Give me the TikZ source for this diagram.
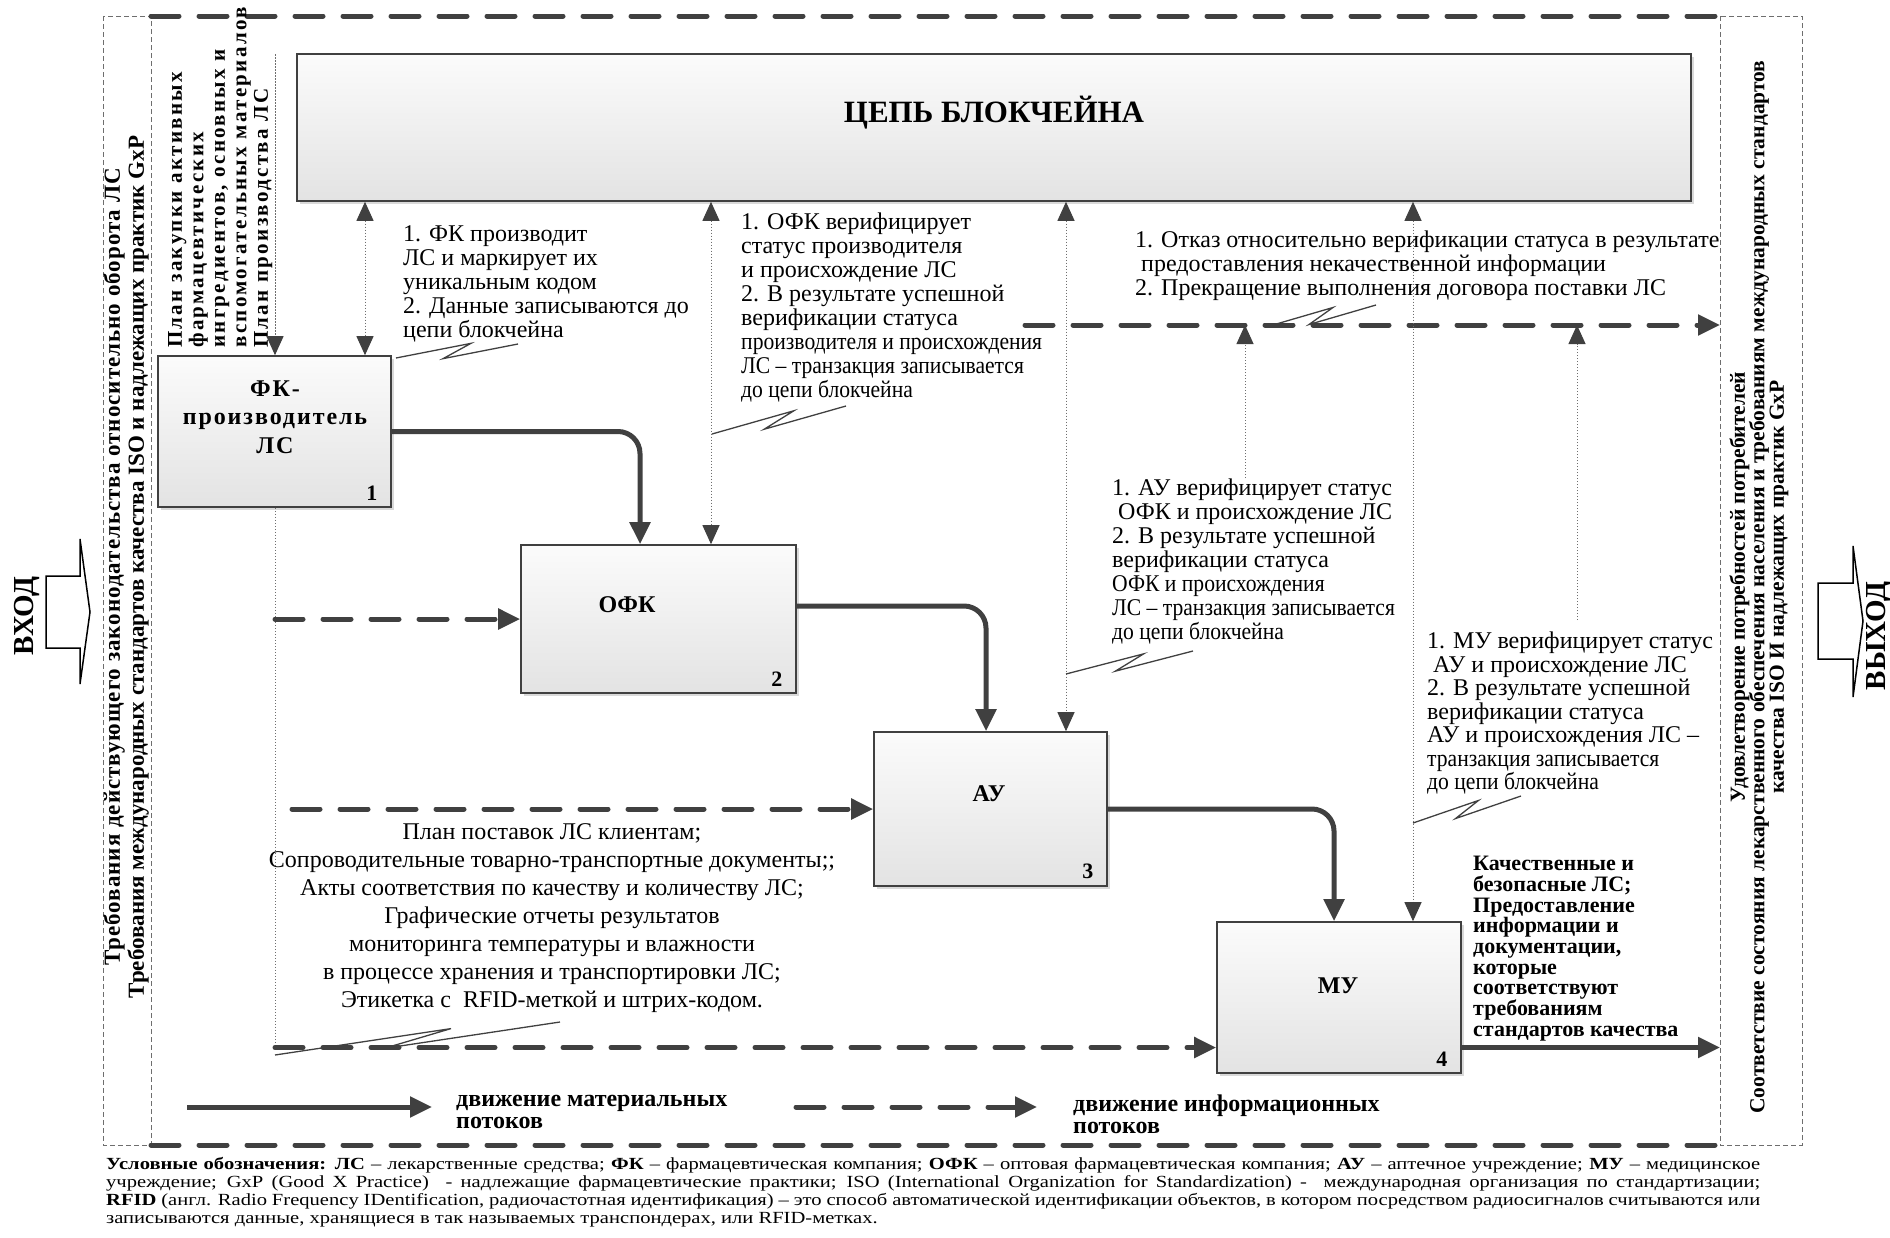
\documentclass[tikz,border=0pt]{standalone}
\usepackage{fontspec}
\setmainfont{Liberation Serif}
\newfontfamily\spacedf[LetterSpace=11]{Liberation Serif}
\newfontfamily\lsf[LetterSpace=4.3]{Liberation Serif}
\newfontfamily\boxf[LetterSpace=8]{Liberation Serif}
\newfontfamily\condf[FakeStretch=0.9]{Liberation Serif}
\newfontfamily\widef[FakeStretch=1.21]{Liberation Serif}
\usetikzlibrary{arrows.meta,calc,shadows}
\definecolor{dk}{RGB}{64,64,64}
\definecolor{dotc}{RGB}{110,110,110}
\newcommand\fsz[2]{\fontsize{#1}{#2}\selectfont\lineskiplimit=-60pt\relax}
\newcommand\squig[2]{\draw[sq] (#1) -- ($(#1)!0.62!(#2)!6pt!90:(#2)$) -- ($(#1)!0.38!(#2)!6pt!-90:(#2)$) -- (#2);}
\begin{document}
\begin{tikzpicture}[x=1pt,y=-1pt,
  box/.style={draw=dk, line width=1.6pt, top color=gray!3, bottom color=gray!22,
    drop shadow={opacity=0.3, shadow xshift=3pt, shadow yshift=-3pt}, inner sep=0pt},
  blabel/.style={font=\bfseries\fsz{24}{28}, inner sep=0pt, align=center},
  num/.style={font=\bfseries\fsz{22}{22}, inner sep=0pt},
  ann/.style={font=\fsz{24}{24}, align=left, inner sep=0pt, anchor=north west},
  mat/.style={draw=dk, line width=5pt, -{Triangle[length=22pt,width=20pt,color=dk]}},
  info/.style={draw=dk, line width=5pt, dash pattern=on 28pt off 20pt, line cap=round,
    -{Triangle[length=22pt,width=20pt,color=dk]}},
  framel/.style={draw=dk, line width=5pt, dash pattern=on 28pt off 20pt, line cap=round},
  thindash/.style={draw=dotc, line width=1pt, dash pattern=on 5pt off 3pt},
  dotl/.style={draw=dotc, line width=1pt, dash pattern=on 1.5pt off 1.5pt},
  dbl/.style={dotl, {Triangle[length=19pt,width=17pt,color=dk]}-{Triangle[length=19pt,width=17pt,color=dk]}},
  upar/.style={dotl, -{Triangle[length=19pt,width=17pt,color=dk]}},
  sq/.style={draw=dk, line width=1.3pt, line join=miter},
  bigarrow/.style={draw=black, line width=1.5pt, line join=miter}
]
\useasboundingbox (0,0) rectangle (1890,1237);

% frames
\draw[thindash] (103,16) rectangle (151,1145);
\draw[thindash] (1720,16) rectangle (1802,1145);
\draw[framel] (151,16) -- (1720,16);
\draw[framel] (151,1145) -- (1720,1145);

% input / output block arrows
\draw[bigarrow] (46,576) -- (80,576) -- (80,539) -- (90,612) -- (80,684) -- (80,648) -- (46,648) -- cycle;
\node[rotate=90, font=\bfseries\fsz{29}{29}, inner sep=0pt] (vhod) at (27,616) {ВХОД};
\draw[bigarrow] (1818,583) -- (1853,583) -- (1853,546) -- (1863,621) -- (1853,697) -- (1853,659) -- (1818,659) -- cycle;
\node[rotate=90, font=\bfseries\fsz{29}{29}, inner sep=0pt] (vyhod) at (1879,636) {ВЫХОД};

% strip texts
\node[rotate=90, font=\bfseries\fsz{23}{24}, align=center, inner sep=0pt] (lreq) at (126,567)
  {{\lsf\bfseries Требования действующего законодательства относительно оборота ЛС}\\Требования международных стандартов качества ISO и надлежащих практик GxP};
\node[rotate=90, font=\bfseries\fsz{21.5}{19.5}, align=center, inner sep=0pt] (rres) at (1759,587)
  {Удовлетворение потребностей потребителей\\Соответствие состояния лекарственного обеспечения населения и требованиям международных стандартов\\качества ISO И надлежащих практик GxP};

% plan text
\node[font=\spacedf\bfseries\fsz{21}{21.5}, align=left, rotate=90, anchor=north west, inner sep=0pt] (plan) at (168,348)
  {План закупки активных\\фармацевтических\\ингредиентов, основных и\\вспомогательных материалов\\План производства ЛС};

% helper coordinates
\coordinate (pl) at (275,54);
\coordinate (L2) at (292,0);
\coordinate (outR) at (1720,0);

% boxes
\node[box, minimum width=1394pt, minimum height=147pt] (chain) at (994,127.5) {};
\node[box, minimum width=233pt, minimum height=151pt] (fk) at (274.5,431.5) {};
\node[box, minimum width=275pt, minimum height=148pt] (ofk) at (658.5,619) {};
\node[box, minimum width=233pt, minimum height=154pt] (au) at (990.5,809) {};
\node[box, minimum width=244pt, minimum height=151pt] (mu) at (1339,997.5) {};

\node[blabel, font=\bfseries\fsz{31}{31}] (chl) at (994,113) {ЦЕПЬ БЛОКЧЕЙНА};
\node[blabel, font=\boxf\bfseries\fsz{24}{28.5}] (fkl) at (275,417) {ФК-\\производитель\\ЛС};
\node[blabel] (ofkl) at (627,605) {ОФК};
\node[blabel] (aul) at (989,794) {АУ};
\node[blabel] (mul) at (1338,986) {МУ};

\node[num] (n1) at ($(fk.south east)+(-20,-15)$) {1};
\node[num] (n2) at ($(ofk.south east)+(-20,-15)$) {2};
\node[num] (n3) at ($(au.south east)+(-20,-15)$) {3};
\node[num] (n4) at ($(mu.south east)+(-20,-15)$) {4};

% plan dotted line
\draw[upar] (pl) -- (pl |- fk.north);
\coordinate (muin) at ([yshift=-50pt]mu.west);
\coordinate (muout) at ([yshift=-50pt]mu.east);
\draw[dotl] (pl |- fk.south) -- (pl |- muin);

% material flows
\draw[mat, rounded corners=22pt] (fk.east) -| ([xshift=-18.5pt]ofk.north);
\coordinate (ofkout) at ([yshift=13pt]ofk.east);
\draw[mat, rounded corners=22pt] (ofkout) -| ([xshift=-4.5pt]au.north);
\draw[mat, rounded corners=22pt] (au.east) -| ([xshift=-5pt]mu.north);
\draw[mat] (muout) -- (muout -| outR);

% information flows
\draw[info] (pl |- ofk.west) -- (ofk.west);
\draw[info] (L2 |- au.west) -- (au.west);
\draw[info] (pl |- muin) -- (muin);
\coordinate (rejS) at (1025,325);
\draw[info] (rejS) -- (rejS -| outR);

% blockchain double arrows
\coordinate (a1) at ([xshift=90.5pt]fk.north);
\coordinate (a2) at ([xshift=52.5pt]ofk.north);
\coordinate (a3) at ([xshift=75.5pt]au.north);
\coordinate (a4) at ([xshift=74pt]mu.north);
\draw[dbl] (a1 |- chain.south) -- (a1);
\draw[dbl] (a2 |- chain.south) -- (a2);
\draw[dbl] (a3 |- chain.south) -- (a3);
\draw[dbl] (a4 |- chain.south) -- (a4);

% rejection up arrows
\coordinate (b1) at (1245,478);
\coordinate (b2) at (1577,620);
\draw[upar] (b1) -- (b1 |- rejS);
\draw[upar] (b2) -- (b2 |- rejS);

% annotation texts
\node[ann] (t1) at (403,225) {1. ФК производит\\ЛС и маркирует их\\уникальным кодом\\2. Данные записываются до\\цепи блокчейна};
\node[ann] (t2) at (741,213) {1. ОФК верифицирует\\статус производителя\\и происхождение ЛС\\2. В результате успешной\\верификации статуса\\{\condf производителя и происхождения}\\{\condf ЛС – транзакция записывается}\\{\condf до цепи блокчейна}};
\node[ann] (t3) at (1112,479) {1. АУ верифицирует статус\\\ ОФК и происхождение ЛС\\2. В результате успешной\\верификации статуса\\{\condf ОФК и происхождения}\\{\condf ЛС – транзакция записывается}\\{\condf до цепи блокчейна}};
\node[ann, font=\fsz{24}{23.5}] (t4) at (1427,632) {1. МУ верифицирует статус\\\ АУ и происхождение ЛС\\2. В результате успешной\\верификации статуса\\АУ и происхождения ЛС –\\{\condf транзакция записывается}\\{\condf до цепи блокчейна}};
\node[ann] (t5) at (1135,231) {1. Отказ относительно верификации статуса в результате\\\ предоставления некачественной информации\\2. Прекращение выполнения договора поставки ЛС};
\node[font=\fsz{24}{28}, align=center, inner sep=0pt, anchor=north] (docs) at (552,823)
  {План поставок ЛС клиентам;\\Сопроводительные товарно-транспортные документы;;\\Акты соответствия по качеству и количеству ЛС;\\Графические отчеты результатов\\мониторинга температуры и влажности\\в процессе хранения и транспортировки ЛС;\\Этикетка с~~RFID-меткой и штрих-кодом.};
\node[ann, font=\bfseries\fsz{22}{20.7}] (outt) at (1473,856) {Качественные и\\безопасные ЛС;\\Предоставление\\информации и\\документации,\\которые\\соответствуют\\требованиям\\стандартов качества};

% squiggles
\coordinate (s1a) at (396,358); \coordinate (s1b) at (518,344);
\coordinate (s2a) at (712,434); \coordinate (s2b) at (846,406);
\coordinate (s3a) at (1266,327); \coordinate (s3b) at (1376,305);
\coordinate (s4a) at (1066,674); \coordinate (s4b) at (1193,651);
\coordinate (s5a) at (1413,823); \coordinate (s5b) at (1521,796);
\coordinate (s6a) at (275,1055); \coordinate (s6b) at (560,1022);
\squig{s1a}{s1b}
\squig{s2a}{s2b}
\squig{s3a}{s3b}
\squig{s4a}{s4b}
\squig{s5a}{s5b}
\squig{s6a}{s6b}

% legend arrows
\coordinate (lgA) at (187,1107); \coordinate (lgB) at (432,1107);
\coordinate (lgC) at (796,1107); \coordinate (lgD) at (1037,1107);
\draw[mat] (lgA) -- (lgB);
\draw[info] (lgC) -- (lgD);
\node[ann, font=\bfseries\fsz{24}{22}] (lgt1) at (456,1095) {движение материальных\\потоков};
\node[ann, font=\bfseries\fsz{24}{22}] (lgt2) at (1073,1095) {движение информационных\\потоков};

% legend text
\node[font=\widef\fsz{17}{18.2}, align=left, inner sep=0pt, anchor=north west] (legend) at (106,1157)
  {\makebox[1654pt][s]{\textbf{Условные обозначения: ЛС} – лекарственные средства; \textbf{ФК} – фармацевтическая компания; \textbf{ОФК} – оптовая фармацевтическая компания; \textbf{АУ} – аптечное учреждение; \textbf{МУ} – медицинское}\\
   \makebox[1654pt][s]{учреждение; GxP (Good X Practice) ~- надлежащие фармацевтические практики; ISO (International Organization for Standardization) - ~международная организация по стандартизации;}\\
   \makebox[1654pt][s]{\textbf{RFID} (англ. Radio Frequency IDentification, радиочастотная идентификация) – это способ автоматической идентификации объектов, в котором посредством радиосигналов считываются или}\\
   записываются данные, хранящиеся в так называемых транспондерах, или RFID-метках.};
\end{tikzpicture}
\end{document}
